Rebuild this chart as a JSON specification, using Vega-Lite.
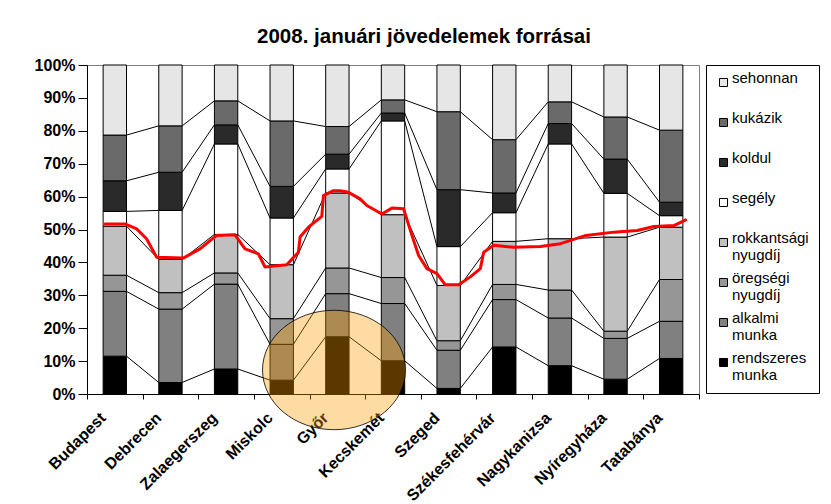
{
  "$schema": "https://vega.github.io/schema/vega-lite/v6.json",
  "width": 612,
  "height": 329,
  "autosize": {"type": "none"},
  "padding": {"left": 87, "top": 65, "right": 132, "bottom": 110},
  "background": "white",
  "config": {
    "font": "Liberation Sans",
    "view": {"stroke": "#808080", "strokeWidth": 1}
  },
  "title": {
    "text": "2008. januári jövedelemek forrásai",
    "font": "Liberation Sans",
    "fontSize": 20.5,
    "fontWeight": "bold",
    "color": "black",
    "anchor": "middle",
    "dx": 31,
    "offset": 10
  },
  "layer": [
    {
      "data": {
        "values": [
          {"city": "Budapest", "series": "rendszeres munka", "value": 11.5},
          {"city": "Budapest", "series": "alkalmi munka", "value": 19.7},
          {"city": "Budapest", "series": "öregségi nyugdíj", "value": 4.9},
          {"city": "Budapest", "series": "rokkantsági nyugdíj", "value": 14.9},
          {"city": "Budapest", "series": "segély", "value": 4.5},
          {"city": "Budapest", "series": "koldul", "value": 9.3},
          {"city": "Budapest", "series": "kukázik", "value": 13.9},
          {"city": "Budapest", "series": "sehonnan", "value": 21.3},
          {"city": "Debrecen", "series": "rendszeres munka", "value": 3.5},
          {"city": "Debrecen", "series": "alkalmi munka", "value": 22.3},
          {"city": "Debrecen", "series": "öregségi nyugdíj", "value": 5.0},
          {"city": "Debrecen", "series": "rokkantsági nyugdíj", "value": 10.1},
          {"city": "Debrecen", "series": "segély", "value": 14.9},
          {"city": "Debrecen", "series": "koldul", "value": 11.6},
          {"city": "Debrecen", "series": "kukázik", "value": 14.1},
          {"city": "Debrecen", "series": "sehonnan", "value": 18.5},
          {"city": "Zalaegerszeg", "series": "rendszeres munka", "value": 7.6},
          {"city": "Zalaegerszeg", "series": "alkalmi munka", "value": 25.8},
          {"city": "Zalaegerszeg", "series": "öregségi nyugdíj", "value": 3.4},
          {"city": "Zalaegerszeg", "series": "rokkantsági nyugdíj", "value": 11.7},
          {"city": "Zalaegerszeg", "series": "segély", "value": 27.5},
          {"city": "Zalaegerszeg", "series": "koldul", "value": 5.8},
          {"city": "Zalaegerszeg", "series": "kukázik", "value": 7.3},
          {"city": "Zalaegerszeg", "series": "sehonnan", "value": 10.9},
          {"city": "Miskolc", "series": "rendszeres munka", "value": 4.2},
          {"city": "Miskolc", "series": "alkalmi munka", "value": 10.9},
          {"city": "Miskolc", "series": "öregségi nyugdíj", "value": 7.8},
          {"city": "Miskolc", "series": "rokkantsági nyugdíj", "value": 16.4},
          {"city": "Miskolc", "series": "segély", "value": 14.2},
          {"city": "Miskolc", "series": "koldul", "value": 9.6},
          {"city": "Miskolc", "series": "kukázik", "value": 19.9},
          {"city": "Miskolc", "series": "sehonnan", "value": 17.0},
          {"city": "Győr", "series": "rendszeres munka", "value": 17.4},
          {"city": "Győr", "series": "alkalmi munka", "value": 13.1},
          {"city": "Győr", "series": "öregségi nyugdíj", "value": 7.8},
          {"city": "Győr", "series": "rokkantsági nyugdíj", "value": 22.8},
          {"city": "Győr", "series": "segély", "value": 7.3},
          {"city": "Győr", "series": "koldul", "value": 4.5},
          {"city": "Győr", "series": "kukázik", "value": 8.4},
          {"city": "Győr", "series": "sehonnan", "value": 18.7},
          {"city": "Kecskemét", "series": "rendszeres munka", "value": 10.1},
          {"city": "Kecskemét", "series": "alkalmi munka", "value": 17.4},
          {"city": "Kecskemét", "series": "öregségi nyugdíj", "value": 7.9},
          {"city": "Kecskemét", "series": "rokkantsági nyugdíj", "value": 19.1},
          {"city": "Kecskemét", "series": "segély", "value": 28.5},
          {"city": "Kecskemét", "series": "koldul", "value": 2.4},
          {"city": "Kecskemét", "series": "kukázik", "value": 4.0},
          {"city": "Kecskemét", "series": "sehonnan", "value": 10.6},
          {"city": "Szeged", "series": "rendszeres munka", "value": 1.7},
          {"city": "Szeged", "series": "alkalmi munka", "value": 11.6},
          {"city": "Szeged", "series": "öregségi nyugdíj", "value": 2.9},
          {"city": "Szeged", "series": "rokkantsági nyugdíj", "value": 16.8},
          {"city": "Szeged", "series": "segély", "value": 11.8},
          {"city": "Szeged", "series": "koldul", "value": 17.3},
          {"city": "Szeged", "series": "kukázik", "value": 23.7},
          {"city": "Szeged", "series": "sehonnan", "value": 14.2},
          {"city": "Székesfehérvár", "series": "rendszeres munka", "value": 14.3},
          {"city": "Székesfehérvár", "series": "alkalmi munka", "value": 14.4},
          {"city": "Székesfehérvár", "series": "öregségi nyugdíj", "value": 4.6},
          {"city": "Székesfehérvár", "series": "rokkantsági nyugdíj", "value": 13.1},
          {"city": "Székesfehérvár", "series": "segély", "value": 8.7},
          {"city": "Székesfehérvár", "series": "koldul", "value": 6.0},
          {"city": "Székesfehérvár", "series": "kukázik", "value": 16.2},
          {"city": "Székesfehérvár", "series": "sehonnan", "value": 22.7},
          {"city": "Nagykanizsa", "series": "rendszeres munka", "value": 8.6},
          {"city": "Nagykanizsa", "series": "alkalmi munka", "value": 14.5},
          {"city": "Nagykanizsa", "series": "öregségi nyugdíj", "value": 8.5},
          {"city": "Nagykanizsa", "series": "rokkantsági nyugdíj", "value": 15.6},
          {"city": "Nagykanizsa", "series": "segély", "value": 28.8},
          {"city": "Nagykanizsa", "series": "koldul", "value": 6.2},
          {"city": "Nagykanizsa", "series": "kukázik", "value": 6.6},
          {"city": "Nagykanizsa", "series": "sehonnan", "value": 11.2},
          {"city": "Nyíregyháza", "series": "rendszeres munka", "value": 4.5},
          {"city": "Nyíregyháza", "series": "alkalmi munka", "value": 12.4},
          {"city": "Nyíregyháza", "series": "öregségi nyugdíj", "value": 2.2},
          {"city": "Nyíregyháza", "series": "rokkantsági nyugdíj", "value": 28.6},
          {"city": "Nyíregyháza", "series": "segély", "value": 13.3},
          {"city": "Nyíregyháza", "series": "koldul", "value": 10.4},
          {"city": "Nyíregyháza", "series": "kukázik", "value": 12.8},
          {"city": "Nyíregyháza", "series": "sehonnan", "value": 15.8},
          {"city": "Tatabánya", "series": "rendszeres munka", "value": 10.8},
          {"city": "Tatabánya", "series": "alkalmi munka", "value": 11.3},
          {"city": "Tatabánya", "series": "öregségi nyugdíj", "value": 12.7},
          {"city": "Tatabánya", "series": "rokkantsági nyugdíj", "value": 15.9},
          {"city": "Tatabánya", "series": "segély", "value": 3.5},
          {"city": "Tatabánya", "series": "koldul", "value": 4.1},
          {"city": "Tatabánya", "series": "kukázik", "value": 21.9},
          {"city": "Tatabánya", "series": "sehonnan", "value": 19.8}
        ]
      },
      "transform": [
        {"calculate": "indexof(['rendszeres munka','alkalmi munka','öregségi nyugdíj','rokkantsági nyugdíj','segély','koldul','kukázik','sehonnan'], datum.series)", "as": "k"},
        {"calculate": "indexof(['Budapest','Debrecen','Zalaegerszeg','Miskolc','Győr','Kecskemét','Szeged','Székesfehérvár','Nagykanizsa','Nyíregyháza','Tatabánya'], datum.city)", "as": "ci"}
      ],
      "layer": [
        {
          "transform": [
            {"stack": "value", "groupby": ["city"], "sort": [{"field": "k", "order": "ascending"}], "as": ["y0", "y1"]},
            {"window": [{"op": "lead", "field": "y1", "as": "ny1"}, {"op": "lead", "field": "city", "as": "ncity"}], "groupby": ["series"], "sort": [{"field": "ci", "order": "ascending"}]},
            {"filter": "datum.ncity != null && datum.series != 'sehonnan'"}
          ],
          "mark": {"type": "rule", "color": "black", "strokeWidth": 1},
          "encoding": {
            "x": {"field": "city", "type": "nominal", "bandPosition": 0.71,
                  "scale": {"domain": ["Budapest","Debrecen","Zalaegerszeg","Miskolc","Győr","Kecskemét","Szeged","Székesfehérvár","Nagykanizsa","Nyíregyháza","Tatabánya"], "paddingInner": 0, "paddingOuter": 0}},
            "x2": {"field": "ncity", "bandPosition": 0.29},
            "y": {"field": "y1", "type": "quantitative", "scale": {"domain": [0, 100], "nice": false},
                  "axis": {"title": null, "values": [0,10,20,30,40,50,60,70,80,90,100], "labelExpr": "datum.value + '%'",
                           "labelFont": "Liberation Sans", "labelFontSize": 16, "labelFontWeight": "bold", "labelColor": "black",
                           "tickSize": 9, "tickColor": "black", "domainColor": "black", "labelPadding": 3, "grid": false}},
            "y2": {"field": "ny1"}
          }
        },
        {
          "mark": {"type": "bar", "width": {"band": 0.42}, "stroke": "black", "strokeWidth": 1},
          "encoding": {
            "x": {"field": "city", "type": "nominal",
                  "scale": {"domain": ["Budapest","Debrecen","Zalaegerszeg","Miskolc","Győr","Kecskemét","Szeged","Székesfehérvár","Nagykanizsa","Nyíregyháza","Tatabánya"], "paddingInner": 0, "paddingOuter": 0},
                  "axis": {"title": null, "labelAngle": -45, "labelAlign": "right", "labelBaseline": "middle",
                           "labelFont": "Liberation Sans", "labelFontSize": 16, "labelFontWeight": "bold", "labelColor": "black",
                           "tickBand": "extent", "tickSize": 5, "tickColor": "black", "domainColor": "black",
                           "labelPadding": 16, "labelOffset": -12, "grid": false}},
            "y": {"field": "value", "type": "quantitative", "stack": "zero",
                  "scale": {"domain": [0, 100], "nice": false},
                  "axis": {"title": null, "values": [0,10,20,30,40,50,60,70,80,90,100], "labelExpr": "datum.value + '%'",
                           "labelFont": "Liberation Sans", "labelFontSize": 16, "labelFontWeight": "bold", "labelColor": "black",
                           "tickSize": 9, "tickColor": "black", "domainColor": "black", "labelPadding": 3, "grid": false}},
            "order": {"field": "k", "type": "quantitative", "sort": "ascending"},
            "color": {"field": "series", "type": "nominal",
                      "scale": {"domain": ["sehonnan","kukázik","koldul","segély","rokkantsági nyugdíj","öregségi nyugdíj","alkalmi munka","rendszeres munka"],
                                "range": ["#e6e6e6","#6a6a6a","#2a2a2a","#ffffff","#c0c0c0","#969696","#808080","#000000"]},
                      "legend": {"title": null, "orient": "none", "legendX": 619, "legendY": 0,
                                 "strokeColor": "black", "fillColor": "white", "padding": 10, "rowPadding": 7,
                                 "symbolType": "square", "symbolSize": 64, "symbolStrokeColor": "black", "symbolStrokeWidth": 1,
                                 "labelFont": "Liberation Sans", "labelFontSize": 15, "labelColor": "black", "labelLineHeight": 20,
                                 "labelBaseline": "alphabetic", "labelOffset": 1, "labelLimit": 200,
                                 "labelExpr": "indexof(datum.label, ' ') > 0 ? split(datum.label, ' ') : [datum.label, ' ']"}}
          }
        }
      ]
    },
    {
      "layer": [
        {
          "data": {
            "values": [
              {"u": 0.324, "p": 51.7}, {"u": 0.683, "p": 51.7}, {"u": 0.893, "p": 50.2}, {"u": 1.07, "p": 47.2},
              {"u": 1.25, "p": 41.6}, {"u": 1.73, "p": 41.3}, {"u": 2.03, "p": 44.1}, {"u": 2.33, "p": 48.2},
              {"u": 2.66, "p": 48.4}, {"u": 2.84, "p": 44.1}, {"u": 3.08, "p": 42.6}, {"u": 3.2, "p": 38.6},
              {"u": 3.59, "p": 39.3}, {"u": 3.8, "p": 43.1}, {"u": 3.83, "p": 47.7}, {"u": 3.98, "p": 50.7},
              {"u": 4.22, "p": 54.0}, {"u": 4.25, "p": 60.3}, {"u": 4.43, "p": 61.8}, {"u": 4.55, "p": 61.8},
              {"u": 4.7, "p": 61.3}, {"u": 4.91, "p": 59.3}, {"u": 5.03, "p": 57.3}, {"u": 5.3, "p": 54.7},
              {"u": 5.48, "p": 56.5}, {"u": 5.69, "p": 56.3}, {"u": 5.84, "p": 48.2}, {"u": 5.96, "p": 42.1},
              {"u": 6.11, "p": 38.1}, {"u": 6.29, "p": 36.6}, {"u": 6.44, "p": 33.2}, {"u": 6.68, "p": 33.2},
              {"u": 6.89, "p": 35.6}, {"u": 7.07, "p": 38.1}, {"u": 7.13, "p": 43.1}, {"u": 7.31, "p": 45.2},
              {"u": 7.67, "p": 44.6}, {"u": 8.15, "p": 44.8}, {"u": 8.51, "p": 45.7}, {"u": 8.97, "p": 48.2},
              {"u": 9.47, "p": 49.2}, {"u": 9.89, "p": 49.7}, {"u": 10.19, "p": 50.9}, {"u": 10.55, "p": 51.2},
              {"u": 10.76, "p": 52.9}
            ]
          },
          "mark": {"type": "line", "color": "#ff0000", "strokeWidth": 3, "strokeJoin": "round", "strokeCap": "round"},
          "encoding": {
            "x": {"field": "u", "type": "quantitative", "scale": {"domain": [0, 11], "nice": false, "zero": false}, "axis": null},
            "y": {"field": "p", "type": "quantitative",
                  "axis": {"title": null, "values": [0,10,20,30,40,50,60,70,80,90,100], "labelExpr": "datum.value + '%'",
                           "labelFont": "Liberation Sans", "labelFontSize": 16, "labelFontWeight": "bold", "labelColor": "black",
                           "tickSize": 9, "tickColor": "black", "domainColor": "black", "labelPadding": 3, "grid": false}}
          }
        },
        {
          "data": {"values": [{"u": 4.44, "p": 7.3}]},
          "mark": {"type": "point", "filled": true, "size": 20449,
                   "shape": "M-1,0 C-1,-0.461 -0.552,-0.835 0,-0.835 C0.552,-0.835 1,-0.461 1,0 C1,0.461 0.552,0.835 0,0.835 C-0.552,0.835 -1,0.461 -1,0 Z",
                   "fill": "#fa9c00", "fillOpacity": 0.36, "stroke": "black", "strokeWidth": 1, "strokeOpacity": 0.8},
          "encoding": {
            "x": {"field": "u", "type": "quantitative", "scale": {"domain": [0, 11], "nice": false, "zero": false}, "axis": null},
            "y": {"field": "p", "type": "quantitative",
                  "axis": {"title": null, "values": [0,10,20,30,40,50,60,70,80,90,100], "labelExpr": "datum.value + '%'",
                           "labelFont": "Liberation Sans", "labelFontSize": 16, "labelFontWeight": "bold", "labelColor": "black",
                           "tickSize": 9, "tickColor": "black", "domainColor": "black", "labelPadding": 3, "grid": false}}
          }
        }
      ]
    }
  ],
  "resolve": {"scale": {"x": "independent"}, "axis": {"x": "independent"}}
}
